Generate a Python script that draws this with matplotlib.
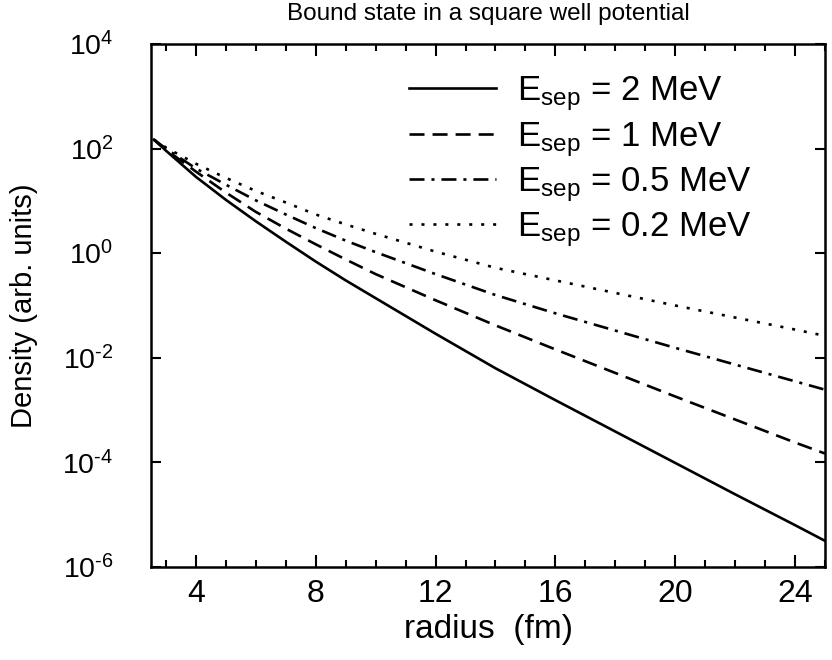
import matplotlib
matplotlib.use("Agg")
import matplotlib.pyplot as plt
import numpy as np
from matplotlib.ticker import FixedLocator, MultipleLocator, FuncFormatter

plt.rcParams['font.family'] = ['Liberation Sans', 'DejaVu Sans']
plt.rcParams['mathtext.fontset'] = 'custom'
plt.rcParams['mathtext.rm'] = 'Liberation Sans'
plt.rcParams['mathtext.it'] = 'Liberation Sans:italic'
plt.rcParams['axes.unicode_minus'] = False
plt.rcParams['lines.scale_dashes'] = False

# radius (fm)
radius = [2.6, 3, 4, 5, 6, 7, 8, 9, 10, 12, 14, 16, 18, 20, 22, 24, 25]
# log10 density
log_e2 = [2.17, 1.96, 1.46, 1.02, 0.61, 0.22, -0.16, -0.52, -0.86, -1.54, -2.20,
          -2.81, -3.41, -4.01, -4.61, -5.20, -5.50]
log_e1 = [2.17, 1.98, 1.56, 1.16, 0.79, 0.47, 0.17, -0.12, -0.40, -0.90, -1.38,
          -1.84, -2.29, -2.74, -3.18, -3.62, -3.83]
log_e05 = [2.17, 2.00, 1.62, 1.31, 1.01, 0.74, 0.48, 0.24, 0.02, -0.40, -0.80,
           -1.15, -1.48, -1.81, -2.13, -2.45, -2.61]
log_e02 = [2.17, 2.02, 1.71, 1.44, 1.19, 0.97, 0.74, 0.55, 0.37, 0.03, -0.28,
           -0.52, -0.76, -1.00, -1.23, -1.46, -1.58]
labels = [r'E$_{\rm sep}$ = 2 MeV', r'E$_{\rm sep}$ = 1 MeV',
          r'E$_{\rm sep}$ = 0.5 MeV', r'E$_{\rm sep}$ = 0.2 MeV']
y_ticks = [1e-6, 1e-4, 1e-2, 1e0, 1e2, 1e4]
x_ticks = [4, 8, 12, 16, 20, 24]

W, H = 832, 660
fig = plt.figure(figsize=(W/100, H/100), dpi=100)
ax = fig.add_axes([151/W, 1-567/H, (825-151)/W, (567-44)/H])

lw = 1.9
styles = [dict(linestyle='-'),
          dict(linestyle=(0, (10.8, 5.8))),
          dict(linestyle=(0, (10.8, 5.0, 2.2, 5.0))),
          dict(linestyle=(0, (2.2, 6.4)))]
for logs, lab, st in zip([log_e2, log_e1, log_e05, log_e02], labels, styles):
    ax.plot(radius, 10**np.array(logs), color='black', lw=lw, label=lab, **st)

ax.set_yscale('log')
ax.set_xlim(2.5, 25)
ax.set_ylim(1e-6, 1e4)


def fmt(v, pos):
    e = int(round(np.log10(v)))
    s = ('\u2010' if e < 0 else '') + str(abs(e))
    return r'10$^{\mathregular{' + s + '}}$'


ax.yaxis.set_major_locator(FixedLocator(y_ticks))
ax.yaxis.set_minor_locator(FixedLocator([]))
ax.yaxis.set_major_formatter(FuncFormatter(fmt))
ax.xaxis.set_major_locator(FixedLocator(x_ticks))
ax.xaxis.set_minor_locator(MultipleLocator(1))

for s in ax.spines.values():
    s.set_linewidth(1.8)
ax.tick_params(which='both', direction='in', top=True, right=True, width=1.5)
ax.tick_params(axis='x', which='major', length=8.6, labelsize=23, pad=9)
ax.tick_params(axis='x', which='minor', length=4.7)
ax.tick_params(axis='y', which='major', length=7.5, labelsize=20.5, pad=27)

ax.set_xlabel('radius  (fm)', fontsize=24)
ax.xaxis.set_label_coords(0.5, -0.09)
ax.set_ylabel('Density (arb. units)', fontsize=21)
ax.yaxis.set_label_coords(-0.168, 0.5)
ax.set_title('Bound state in a square well potential', fontsize=17.5, pad=17)

leg = ax.legend(loc='upper left', bbox_to_anchor=(0.383, 0.942), frameon=False,
                fontsize=25, handlelength=2.5, handletextpad=0.62,
                labelspacing=0.19, borderpad=0, borderaxespad=0)

fig.savefig('out.png', dpi=100)
